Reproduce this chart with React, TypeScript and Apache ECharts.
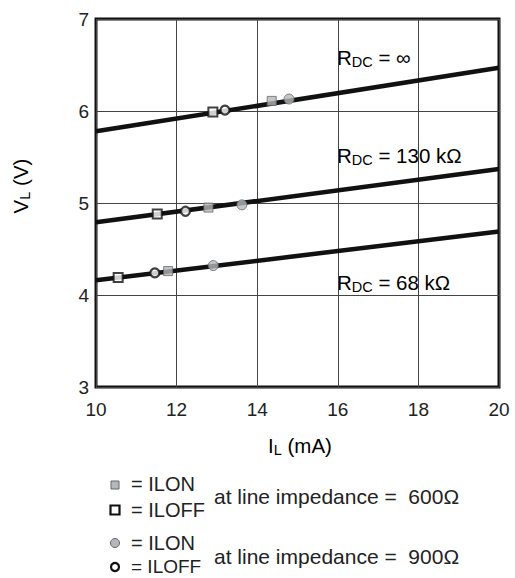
import React, { useEffect, useRef } from "react";
import * as echarts from "echarts";

const lineX = [10, 20];
const rdcInf = [5.78, 6.47];
const rdc130 = [4.79, 5.37];
const rdc68 = [4.16, 4.69];

const ilon600 = [[14.36, 6.11], [12.79, 4.95], [11.79, 4.26]];
const iloff600 = [[12.9, 5.99], [11.52, 4.88], [10.55, 4.19]];
const ilon900 = [[14.79, 6.13], [13.62, 4.98], [12.91, 4.32]];
const iloff900 = [[13.2, 6.01], [12.22, 4.91], [11.46, 4.24]];

const FONT = '"Liberation Sans", Arial, Helvetica, sans-serif';
const GRAY = "#b4b8bc";

export default function App() {
  const ref = useRef<HTMLDivElement>(null);
  useEffect(() => {
    document.body.style.margin = "0";
    const chart = echarts.init(ref.current!, null, { renderer: "svg" });
    const mk = (ys: number[]) => lineX.map((x, i) => [x, ys[i]]);
    const lineSeries = (name: string, ys: number[]) => ({
      name,
      type: "line",
      data: mk(ys),
      symbol: "none",
      lineStyle: { color: "#111", width: 4.5 },
      z: 2,
    });
    const rich = {
      b: { fontSize: 20.5, fontFamily: FONT, color: "#222", lineHeight: 24 },
      s: { fontSize: 14.5, fontFamily: FONT, color: "#222", lineHeight: 12, verticalAlign: "bottom" },
    };
    const rdcText = (y: number, value: string) => ({
      type: "text",
      x: 337,
      y,
      style: {
        text: "{b|R}{s|DC}{b| = " + value + "}",
        rich,
        align: "left",
        verticalAlign: "middle",
      },
    });
    const legendText = (x: number, y: number, t: string, size = 20) => ({
      type: "text",
      x,
      y,
      style: { text: t, font: size + "px " + FONT, fill: "#222", align: "left", verticalAlign: "middle" },
    });
    chart.setOption({
      animation: false,
      grid: { left: 96, right: 16, top: 19, bottom: 191, show: true, borderColor: "#111", borderWidth: 3, backgroundColor: "transparent" },
      xAxis: {
        type: "value",
        min: 10,
        max: 20,
        interval: 2,
        axisLine: { show: false },
        axisTick: { show: false },
        splitLine: { show: true, lineStyle: { color: "#444", width: 1 } },
        axisLabel: { fontSize: 19, fontFamily: FONT, color: "#222", margin: 13 },
      },
      yAxis: {
        type: "value",
        min: 3,
        max: 7,
        interval: 1,
        axisLine: { show: false },
        axisTick: { show: false },
        splitLine: { show: true, lineStyle: { color: "#444", width: 1 } },
        axisLabel: { fontSize: 19, fontFamily: FONT, color: "#222", margin: 7 },
      },
      series: [
        lineSeries("RDC inf", rdcInf),
        lineSeries("RDC 130k", rdc130),
        lineSeries("RDC 68k", rdc68),
        {
          name: "ILON 600",
          type: "scatter",
          data: ilon600,
          symbol: "rect",
          symbolSize: 9,
          itemStyle: { color: GRAY, borderColor: "#666", borderWidth: 1 },
          z: 5,
        },
        {
          name: "ILOFF 600",
          type: "scatter",
          data: iloff600,
          symbol: "rect",
          symbolSize: 9,
          itemStyle: { color: "#fff", borderColor: "#111", borderWidth: 2 },
          z: 5,
        },
        {
          name: "ILON 900",
          type: "scatter",
          data: ilon900,
          symbol: "circle",
          symbolSize: 10,
          itemStyle: { color: GRAY, borderColor: "#666", borderWidth: 1 },
          z: 5,
        },
        {
          name: "ILOFF 900",
          type: "scatter",
          data: iloff900,
          symbol: "circle",
          symbolSize: 9,
          itemStyle: { color: "#fff", borderColor: "#111", borderWidth: 2.2 },
          z: 5,
        },
      ],
      graphic: [
        rdcText(57, "∞"),
        rdcText(155, "130 kΩ"),
        rdcText(282, "68 kΩ"),
        {
          type: "text",
          x: 300,
          y: 445,
          style: { text: "{b|I}{s|L}{b| (mA)}", rich, align: "center", verticalAlign: "middle" },
        },
        {
          type: "text",
          x: 20,
          y: 186,
          rotation: Math.PI / 2,
          style: { text: "{b|V}{s|L}{b| (V)}", rich, align: "center", verticalAlign: "middle" },
        },
        { type: "rect", shape: { x: 111, y: 481, width: 8, height: 8 }, style: { fill: GRAY, stroke: "#666", lineWidth: 1 } },
        legendText(131, 484, "= ILON"),
        { type: "rect", shape: { x: 110.5, y: 505.5, width: 9, height: 9 }, style: { fill: "#fff", stroke: "#111", lineWidth: 2.2 } },
        legendText(131, 510, "= ILOFF"),
        legendText(214, 496, "at line impedance =  600Ω", 21),
        { type: "circle", shape: { cx: 115, cy: 543, r: 4.5 }, style: { fill: GRAY, stroke: "#666", lineWidth: 1 } },
        legendText(131, 543, "= ILON"),
        { type: "circle", shape: { cx: 115, cy: 567, r: 4 }, style: { fill: "#fff", stroke: "#111", lineWidth: 2.2 } },
        legendText(131, 566, "= ILOFF", 19),
        legendText(214, 556, "at line impedance =  900Ω", 21),
      ],
    });
    return () => chart.dispose();
  }, []);
  return <div ref={ref} style={{ width: 515, height: 578 }} />;
}
